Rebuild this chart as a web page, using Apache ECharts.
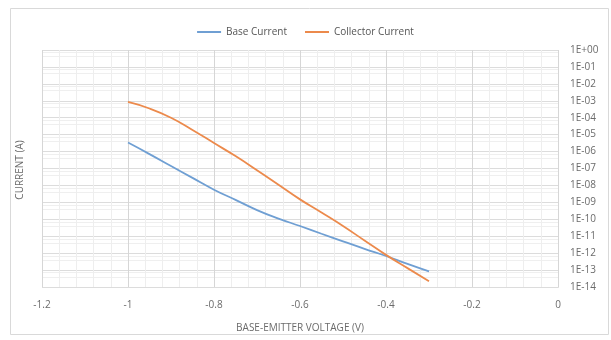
<!doctype html>
<html>
<head>
  <meta charset="UTF-8" />
  <title>Current vs VBE</title>
  <script src="https://cdn.jsdelivr.net/npm/echarts@6/dist/echarts.min.js"></script>
  <style>
    html, body { margin: 0; padding: 0; background: #fff; }
    #chart { width: 611px; height: 340px; }
  </style>
</head>
<body>
  <div id="chart"></div>
  <script>
    // base-emitter voltage (V)
    const voltage = [-1.0, -0.95, -0.9, -0.85, -0.8, -0.75, -0.7, -0.65, -0.6, -0.55, -0.5, -0.45, -0.4, -0.35, -0.3];
    // currents (A)
    const baseCurrent = [3.4e-6, 7.1e-7, 1.4e-7, 2.8e-8, 5.6e-9, 1.4e-9, 3.5e-10, 1.1e-10, 4.0e-11, 1.4e-11, 5.0e-12, 1.8e-12, 6.8e-13, 2.3e-13, 8.3e-14];
    const collectorCurrent = [8.5e-4, 3.5e-4, 1.0e-4, 1.9e-5, 3.2e-6, 5.4e-7, 7.9e-8, 1.1e-8, 1.5e-9, 2.5e-10, 4.0e-11, 5.6e-12, 7.9e-13, 1.3e-13, 2.2e-14];
    const seriesNames = ['Base Current', 'Collector Current'];

    const font = '"Open Sans", "Liberation Sans", sans-serif';
    const textColor = '#6b6b6b';

    function pairs(xs, ys) {
      return xs.map((x, i) => [x, ys[i]]);
    }

    function expLabel(v) {
      const e = Math.round(Math.log10(v));
      if (e === 0) return '1E+00';
      const a = Math.abs(e);
      return '1E' + (e < 0 ? '-' : '+') + (a < 10 ? '0' + a : a);
    }

    const chart = echarts.init(document.getElementById('chart'), null, { renderer: 'canvas' });
    chart.setOption({
      animation: false,
      textStyle: { fontFamily: font },
      color: ['#6f9fd3', '#ec8a4c'],
      legend: {
        top: 22,
        left: 'center',
        icon: 'rect',
        itemWidth: 24,
        itemHeight: 2,
        itemGap: 18,
        textStyle: { fontSize: 10, color: '#555', fontFamily: font },
        data: seriesNames
      },
      grid: { left: 42, right: 53, top: 50, bottom: 53, containLabel: false },
      xAxis: {
        type: 'value',
        min: -1.2,
        max: 0,
        interval: 0.2,
        name: 'BASE-EMITTER VOLTAGE (V)',
        nameLocation: 'middle',
        nameGap: 36,
        nameTextStyle: { fontSize: 10, color: textColor, fontFamily: font },
        axisLine: { show: false },
        axisTick: { show: false },
        axisLabel: { margin: 13, fontSize: 10, color: textColor, formatter: v => String(Math.round(v * 10) / 10) },
        splitLine: { show: true, lineStyle: { color: '#d6d6d6', width: 1 } },
        minorTick: { show: false, splitNumber: 5 },
        minorSplitLine: { show: true, lineStyle: { color: '#eeeeee', width: 1 } }
      },
      yAxis: {
        type: 'log',
        logBase: 10,
        min: 1e-14,
        max: 1,
        interval: 1,
        position: 'right',
        axisLine: { show: false },
        axisTick: { show: false },
        axisLabel: { margin: 12, fontSize: 10, color: textColor, align: 'left', formatter: expLabel },
        splitLine: { show: true, lineStyle: { color: '#dcdcdc', width: 1 } },
        minorTick: { show: false, splitNumber: 3 },
        minorSplitLine: { show: true, lineStyle: { color: '#efefef', width: 1 } }
      },
      graphic: [
        {
          type: 'rect',
          silent: true,
          shape: { x: 10.5, y: 8.5, width: 598, height: 326 },
          style: { fill: 'none', stroke: '#d9d9d9', lineWidth: 1 }
        },
        {
          type: 'rect',
          silent: true,
          shape: { x: 42.5, y: 50.5, width: 516, height: 237 },
          style: { fill: 'none', stroke: '#d6d6d6', lineWidth: 1 }
        },
        {
          type: 'text',
          x: 20,
          y: 170,
          rotation: Math.PI / 2,
          style: {
            text: 'CURRENT (A)',
            fontSize: 10,
            fontFamily: font,
            fill: textColor,
            align: 'center',
            verticalAlign: 'middle'
          }
        }
      ],
      series: [
        {
          name: seriesNames[0],
          type: 'line',
          symbol: 'none',
          smooth: 0.5,
          lineStyle: { width: 1.8 },
          data: pairs(voltage, baseCurrent)
        },
        {
          name: seriesNames[1],
          type: 'line',
          symbol: 'none',
          smooth: 0.5,
          lineStyle: { width: 1.8 },
          data: pairs(voltage, collectorCurrent)
        }
      ]
    });
  </script>
</body>
</html>
